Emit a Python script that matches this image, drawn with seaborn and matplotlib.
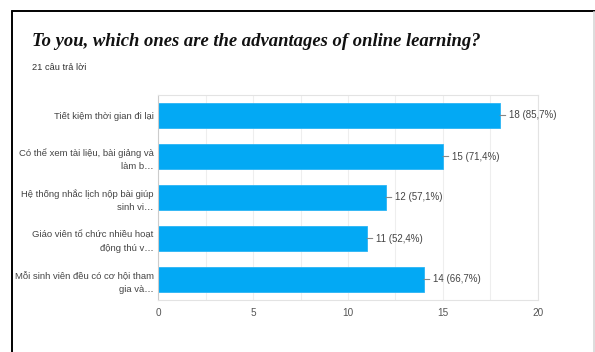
import matplotlib
matplotlib.use("Agg")
import matplotlib.pyplot as plt
from matplotlib.lines import Line2D
import seaborn as sns
import pandas as pd

categories = [
    "Tiết kiệm thời gian đi lại",
    "Có thể xem tài liệu, bài giảng và\nlàm b…",
    "Hệ thống nhắc lịch nộp bài giúp\nsinh vi…",
    "Giáo viên tổ chức nhiều hoạt\nđộng thú v…",
    "Mỗi sinh viên đều có cơ hội tham\ngia và…",
]
counts = [18, 15, 12, 11, 14]
percents = ["85,7%", "71,4%", "57,1%", "52,4%", "66,7%"]
x_ticks = [0, 5, 10, 15, 20]

sns.set_theme(style="white")
plt.rcParams["font.family"] = ["Liberation Sans", "DejaVu Sans"]

df = pd.DataFrame({"cat": categories, "count": counts})

fig = plt.figure(figsize=(5.95, 3.52), dpi=100)
ax = fig.add_axes([158 / 595, 1 - 300 / 352, 380 / 595, 205 / 352])

sns.barplot(data=df, x="count", y="cat", orient="h", color="#03a9f4",
            width=0.6, ax=ax, saturation=1, edgecolor="#2bb5f5", linewidth=0.6)

ax.set_xlim(0, 20)
ax.set_xticks(x_ticks)
ax.set_xticks([2.5, 7.5, 12.5, 17.5], minor=True)
ax.grid(True, axis="x", which="both", color="#eeeeee", linewidth=0.8)
ax.set_axisbelow(True)
ax.set_xlabel("")
ax.set_ylabel("")
for s in ax.spines.values():
    s.set_color("#e3e3e3")
    s.set_linewidth(0.8)
ax.spines["left"].set_color("#cccccc")
ax.tick_params(axis="x", which="both", length=0, pad=6, labelsize=7.2, labelcolor="#555555")
ax.tick_params(axis="y", length=0, pad=3, labelsize=6.8, labelcolor="#444444")
for t in ax.get_yticklabels():
    t.set_linespacing(1.6)

for i, (c, p) in enumerate(zip(counts, percents)):
    ax.annotate(f"{c} ({p})", xy=(c, i), xytext=(9, 0), textcoords="offset pixels",
                va="center", ha="left", fontsize=7.0, color="#444444",
                arrowprops=dict(arrowstyle="-", color="#888888", lw=0.8,
                                shrinkA=0, shrinkB=0))

fig.text(32 / 595, 1 - 41 / 352, "To you, which ones are the advantages of online learning?",
         family=["Liberation Serif", "DejaVu Serif"], fontweight="bold", fontstyle="italic",
         fontsize=13.45, color="#111111", va="center", ha="left")
fig.text(32 / 595, 1 - 68 / 352, "21 câu trả lời", fontsize=6.7, color="#333333",
         va="center", ha="left")

# frame lines
fig.add_artist(Line2D([12 / 595, 12 / 595], [0, 1 - 11 / 352], color="black", lw=1.4,
                      transform=fig.transFigure))
fig.add_artist(Line2D([12 / 595, 1], [1 - 11 / 352, 1 - 11 / 352], color="black", lw=1.4,
                      transform=fig.transFigure))
fig.add_artist(Line2D([593.5 / 595, 593.5 / 595], [0, 1 - 12 / 352], color="#dddddd", lw=1.4,
                      transform=fig.transFigure))

fig.savefig("out.png", dpi=100)
